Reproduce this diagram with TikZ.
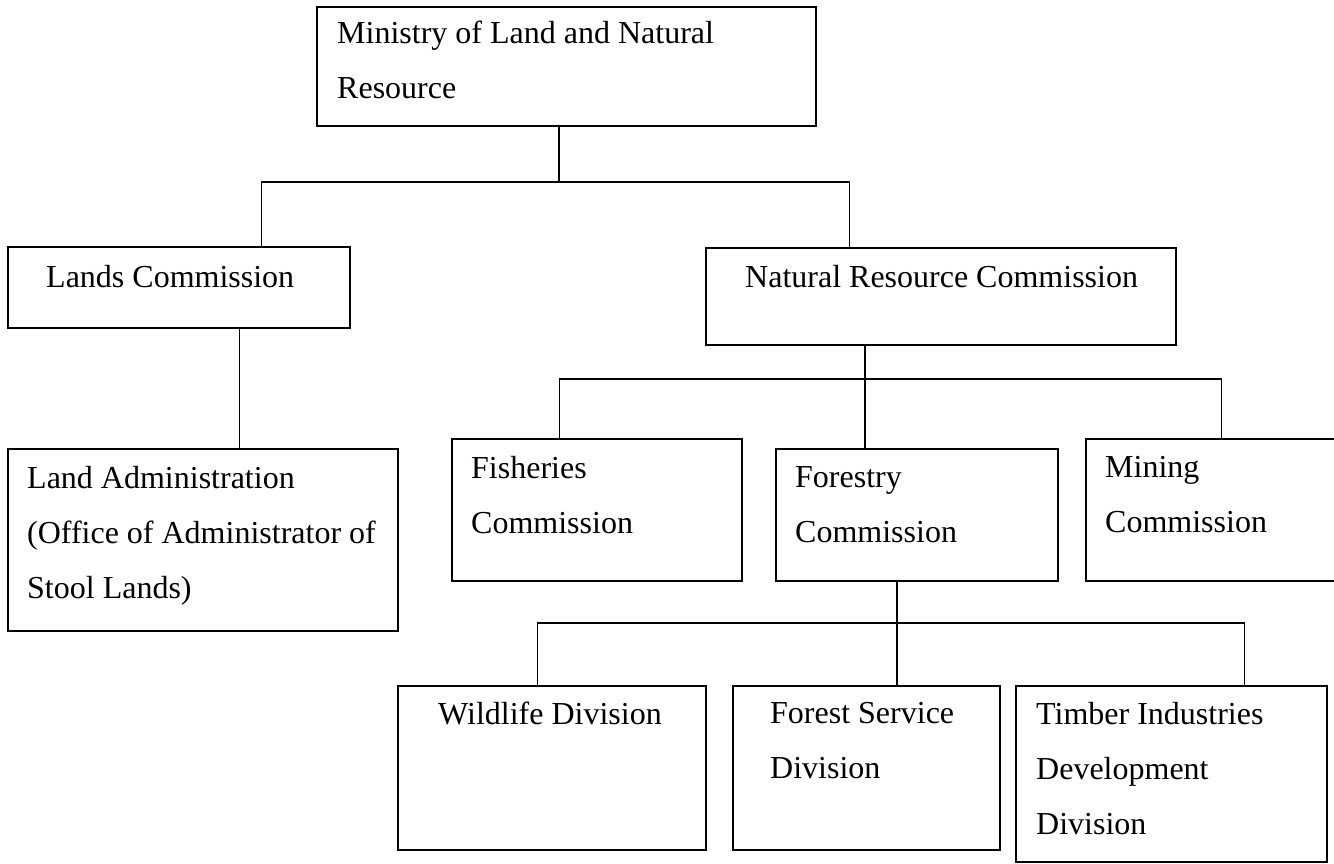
\documentclass[tikz,border=0pt]{standalone}
\usepackage{fontspec}
\setmainfont{Liberation Serif}
\begin{document}
\begin{tikzpicture}[x=1pt,y=-1pt,
	box/.style={draw, rectangle, line width=1.6pt, inner sep=0pt, anchor=north west},
	lbl/.style={anchor=north west, inner sep=0pt, align=left, font=\fontsize{32}{55}\selectfont},
	link/.style={line width=1.3pt}]

		\useasboundingbox (0,0) rectangle (1334,864);

		% boxes
		\node[box, minimum width=499pt, minimum height=119pt] (min) at (316,6) {};
		\node[box, minimum width=342pt, minimum height=81pt] (lands) at (7,246) {};
		\node[box, minimum width=390pt, minimum height=182pt] (landadm) at (7,448) {};
		\node[box, minimum width=470pt, minimum height=97pt] (nrc) at (705,247) {};
		\node[box, minimum width=290pt, minimum height=142pt] (fish) at (451,438) {};
		\node[box, minimum width=282pt, minimum height=132pt] (forc) at (775,448) {};
		\node[box, minimum width=260pt, minimum height=142pt] (mine) at (1085,438) {};
		\node[box, minimum width=308pt, minimum height=164pt] (wild) at (397,685) {};
		\node[box, minimum width=267pt, minimum height=164pt] (fserv) at (732,685) {};
		\node[box, minimum width=311pt, minimum height=176pt] (timber) at (1015,685) {};

		% texts
		\node[lbl] (min-t) at ([shift={(21,15)}]min.north west) {Ministry of Land and Natural\\Resource};
		\node[lbl] (lands-t) at ([shift={(39,19)}]lands.north west) {Lands Commission};
		\node[lbl] (landadm-t) at ([shift={(20,18)}]landadm.north west) {Land Administration\\(Office of Administrator of\\Stool Lands)};
		\node[lbl] (nrc-t) at ([shift={(40,18)}]nrc.north west) {Natural Resource Commission};
		\node[lbl] (fish-t) at ([shift={(20,18)}]fish.north west) {Fisheries\\Commission};
		\node[lbl] (forc-t) at ([shift={(20,18)}]forc.north west) {Forestry\\Commission};
		\node[lbl] (mine-t) at ([shift={(20,18)}]mine.north west) {Mining\\Commission};
		\node[lbl] (wild-t) at ([shift={(41,17)}]wild.north west) {Wildlife Division};
		\node[lbl] (fserv-t) at ([shift={(38,17)}]fserv.north west) {Forest Service\\Division};
		\node[lbl] (timber-t) at ([shift={(21,17)}]timber.north west) {Timber Industries\\Development\\Division};

		% connectors
		\coordinate (top-bus) at (559,182);
		\coordinate (nrc-bus) at (865,379);
		\coordinate (forc-bus) at (897,623);

		\draw[link] (min.south -| top-bus) -- (top-bus);
		\draw[link] ([xshift=83]lands.north) |- (top-bus) -| ([xshift=-91]nrc.north);
		\draw[link] ([xshift=61]lands.south) -- ([xshift=37]landadm.north);

		\draw[link] (nrc.south -| nrc-bus) -- (forc.north -| nrc-bus);
		\draw[link] ([xshift=-37]fish.north) |- (nrc-bus) -| ([xshift=6]mine.north);

		\draw[link] (forc.south -| forc-bus) -- (fserv.north -| forc-bus);
		\draw[link] ([xshift=-14]wild.north) |- (forc-bus) -| ([xshift=73.5]timber.north);

	\end{tikzpicture}
\end{document}
